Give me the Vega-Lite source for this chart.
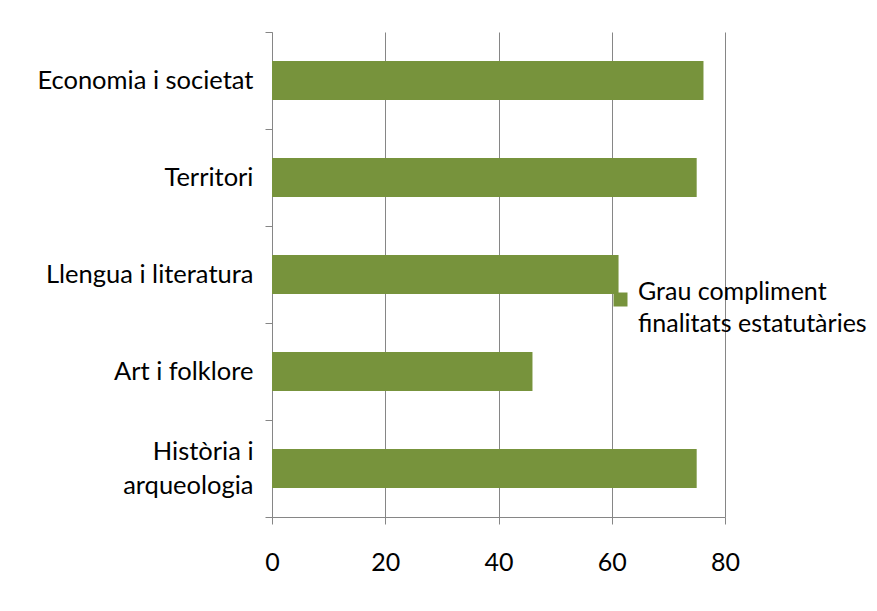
{
  "$schema": "https://vega.github.io/schema/vega-lite/v6.json",
  "width": 453,
  "height": 485,
  "autosize": {"type": "none"},
  "padding": {"left": 272, "top": 32, "right": 152, "bottom": 94},
  "background": "white",
  "config": {
    "view": {"stroke": null},
    "font": "Lato",
    "axis": {"labelFont": "Lato", "labelColor": "#000000", "domainColor": "#868686", "tickColor": "#868686", "gridColor": "#868686"}
  },
  "data": {
    "values": [
      {"category": "Economia i societat", "value": 76.2, "series": "Grau compliment finalitats estatutàries"},
      {"category": "Territori", "value": 75.0, "series": "Grau compliment finalitats estatutàries"},
      {"category": "Llengua i literatura", "value": 61.2, "series": "Grau compliment finalitats estatutàries"},
      {"category": "Art i folklore", "value": 46.0, "series": "Grau compliment finalitats estatutàries"},
      {"category": "Història i arqueologia", "value": 75.0, "series": "Grau compliment finalitats estatutàries"}
    ]
  },
  "mark": {"type": "bar", "height": {"band": 0.402}},
  "encoding": {
    "y": {
      "field": "category",
      "type": "nominal",
      "sort": null,
      "scale": {"paddingInner": 0, "paddingOuter": 0},
      "axis": {
        "title": null,
        "tickBand": "extent",
        "tickSize": 7,
        "labelPadding": 12,
        "labelFontSize": 25.5,
        "labelLimit": 300,
        "labelLineHeight": 34,
        "labelOffset": {"condition": {"test": "datum.value == 'Història i arqueologia'", "value": -17}, "value": 0},
        "labelExpr": "datum.value == 'Història i arqueologia' ? ['Història i ', 'arqueologia'] : datum.value"
      }
    },
    "x": {
      "field": "value",
      "type": "quantitative",
      "scale": {"domain": [0, 80], "nice": false},
      "axis": {"title": null, "values": [0, 20, 40, 60, 80], "tickSize": 7, "labelPadding": 26, "labelFontSize": 25, "grid": true, "labelFlush": false}
    },
    "color": {
      "field": "series",
      "type": "nominal",
      "scale": {"range": ["#77933C"]},
      "legend": {
        "title": null,
        "orient": "none",
        "legendX": 336,
        "legendY": 255,
        "symbolType": "square",
        "symbolSize": 196,
        "symbolStrokeWidth": 0,
        "labelFontSize": 25,
        "labelFont": "Lato",
        "labelColor": "#000000",
        "labelLimit": 400,
        "labelOffset": 5,
        "labelBaseline": "alphabetic",
        "labelExpr": "['Grau compliment', 'finalitats estatutàries']",
        "encode": {"labels": {"update": {"lineHeight": {"value": 32}}}}
      }
    }
  }
}
